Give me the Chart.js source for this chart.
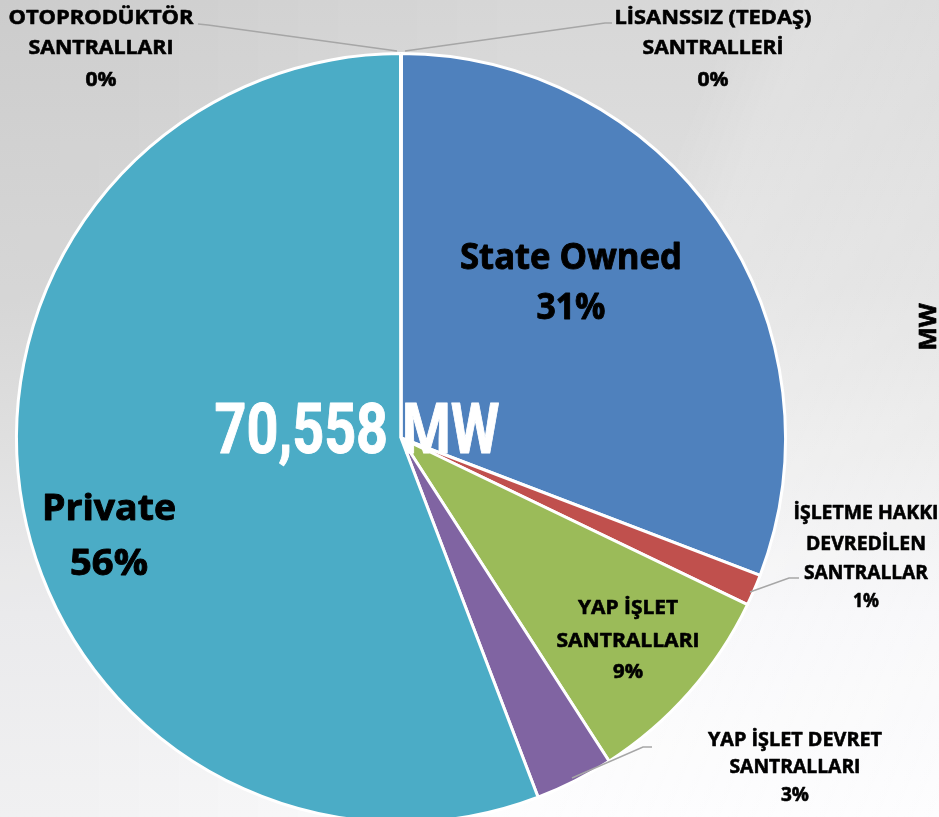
<!DOCTYPE html>
<html>
<head>
<meta charset="utf-8">
<script src="https://cdn.jsdelivr.net/npm/chart.js@4"></script>
<style>
  html, body { margin:0; padding:0; width:939px; height:817px; overflow:hidden; }
  body {
    background:
      linear-gradient(112deg, rgba(255,255,255,0) 0%, rgba(255,255,255,0) 58%, rgba(255,255,255,0.18) 64%, rgba(255,255,255,0.08) 100%),
      linear-gradient(to right, rgba(0,0,0,0.05) 0%, rgba(0,0,0,0.0) 55%),
      linear-gradient(to bottom, #d7d7d7 0%, #e1e1e1 35%, #ececec 55%, #f7f7f9 75%, #fdfdfe 100%);
  }
  #wrap { position:absolute; left:0; top:0; width:939px; height:830px; }
</style>
</head>
<body>
<div id="wrap"><canvas id="c"></canvas></div>
<script>
// ---- data ----
const categories = [
  ["LİSANSSIZ (TEDAŞ)", "SANTRALLERİ"],
  ["State Owned"],
  ["İŞLETME HAKKI", "DEVREDİLEN", "SANTRALLAR"],
  ["YAP İŞLET", "SANTRALLARI"],
  ["YAP İŞLET DEVRET", "SANTRALLARI"],
  ["Private"],
  ["OTOPRODÜKTÖR", "SANTRALLARI"]
];
const valuesMW = [15, 21730, 930, 6180, 2330, 39358, 15];
const sliceColors = ["#F79646", "#4F81BD", "#C0504D", "#9BBB59", "#8064A2", "#4BACC6", "#2C4D75"];
const unitLabel = "MW";

const total = valuesMW.reduce((a, b) => a + b, 0);
const pct = valuesMW.map(v => Math.round(v / total * 100) + "%");

// ---- label layout (style/position only) ----
const labelLayout = [
  { x: 713, ys: [17, 47, 79], widths: [197, 141, 31], size: 20, leader: [[405, 51], [605, 23], [612, 23]] },
  { x: 571, ys: [257, 307], widths: [222, 69], size: 35 },
  { x: 866, ys: [512, 543, 572, 600], widths: [145, 120, 124, 26], size: 20, leader: [[750, 592], [789, 578], [799, 578]] },
  { x: 628, ys: [607, 640, 671], widths: [100, 143, 30], size: 20 },
  { x: 795, ys: [739, 766, 794], widths: [174, 131, 28], size: 20, leader: [[572, 778], [643, 747], [652, 747]] },
  { x: 109, ys: [508, 563], widths: [134, 78], size: 35 },
  { x: 101, ys: [17, 47, 79], widths: [185, 145, 31], size: 20, leader: [[397, 51], [208, 25], [198, 24]] }
];

function drawFit(ctx, text, cx, cy, size, width, color, family, weightStroke) {
  ctx.save();
  ctx.font = "bold " + size + "px " + family;
  ctx.fillStyle = color;
  ctx.strokeStyle = color;
  ctx.textAlign = "center";
  ctx.textBaseline = "alphabetic";
  const w = ctx.measureText(text).width;
  const s = width ? width / w : 1;
  ctx.translate(cx, cy + size * 0.357);
  ctx.scale(s, 1);
  ctx.fillText(text, 0, 0);
  if (weightStroke) {
    ctx.lineWidth = weightStroke;
    ctx.lineJoin = "round";
    ctx.strokeText(text, 0, 0);
  }
  ctx.restore();
}

const labelPlugin = {
  id: "labels",
  afterDraw(chart) {
    const ctx = chart.ctx;
    const fam = "'Open Sans', Lato, sans-serif";
    labelLayout.forEach(l => {
      if (!l.leader) return;
      ctx.save();
      ctx.strokeStyle = "#a6a6a6";
      ctx.lineWidth = 1.5;
      ctx.beginPath();
      l.leader.forEach((p, i) => i ? ctx.lineTo(p[0], p[1]) : ctx.moveTo(p[0], p[1]));
      ctx.stroke();
      ctx.restore();
    });
    categories.forEach((lines, i) => {
      const l = labelLayout[i];
      const all = lines.concat([pct[i]]);
      all.forEach((t, j) => drawFit(ctx, t, l.x, l.ys[j], l.size, l.widths[j], "#000", fam, l.size > 30 ? 0.9 : 0.6));
    });
    drawFit(ctx, total.toLocaleString("en-US") + " " + unitLabel, 357, 428, 70, 285, "#fff", "Roboto, 'Liberation Sans', sans-serif", 1);
    ctx.save();
    ctx.translate(928, 327);
    ctx.rotate(-Math.PI / 2);
    drawFit(ctx, unitLabel, 0, 0, 23, 47, "#000", fam, 0.7);
    ctx.restore();
  }
};

new Chart(document.getElementById("c"), {
  type: "pie",
  data: {
    labels: categories.map(c => c.join(" ")),
    datasets: [{
      data: valuesMW,
      backgroundColor: sliceColors,
      borderColor: "#ffffff",
      borderWidth: 3
    }]
  },
  options: {
    responsive: true,
    maintainAspectRatio: false,
    animation: false,
    rotation: 0,
    layout: { padding: { left: 15, top: 52, right: 152, bottom: 6 } },
    plugins: { legend: { display: false }, tooltip: { enabled: false } }
  },
  plugins: [labelPlugin]
});
</script>
</body>
</html>
